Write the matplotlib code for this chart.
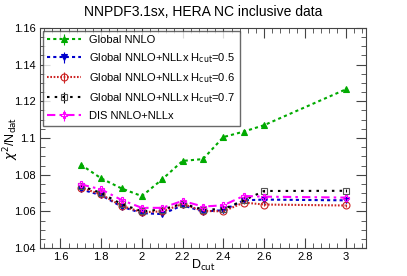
import numpy as np
import matplotlib
matplotlib.use("Agg")
from matplotlib import pyplot as plt
from matplotlib.ticker import MultipleLocator

plt.rcParams['font.family'] = ['Liberation Sans', 'DejaVu Sans']

dcut = [1.7, 1.8, 1.9, 2.0, 2.1, 2.2, 2.3, 2.4, 2.5, 2.6, 3.0]
global_nnlo = [1.0855, 1.078, 1.0725, 1.0683, 1.0775, 1.0875, 1.0885, 1.1005, 1.1035, 1.107, 1.1265]
nllx_h05 = [1.072, 1.0688, 1.0626, 1.0590, 1.0585, 1.0633, 1.0599, 1.0606, 1.0660, 1.0664, 1.0660]
nllx_h06 = [1.073, 1.0692, 1.0630, 1.0595, 1.0600, 1.0640, 1.0602, 1.0600, 1.0648, 1.0637, 1.0632]
nllx_h07 = [1.0740, 1.0700, 1.0640, 1.0600, 1.0610, 1.0642, 1.0610, 1.0612, 1.0660, 1.0711, 1.0712]
dis_nllx = [1.0747, 1.0720, 1.0662, 1.0619, 1.0619, 1.0657, 1.0626, 1.0633, 1.0684, 1.0680, 1.0675]

series = [
    (global_nnlo, 'Global NNLO', '#00aa00', '^', (0, (1.5, 1.5)), True),
    (nllx_h05, r'Global NNLO+NLLx H$_{\rm cut}$=0.5', '#0000cc', 'v', (0, (1.5, 1.5)), True),
    (nllx_h06, r'Global NNLO+NLLx H$_{\rm cut}$=0.6', '#cc2222', 'o', (0, (0.8, 0.8)), False),
    (nllx_h07, r'Global NNLO+NLLx H$_{\rm cut}$=0.7', 'black', 's', (0, (1.2, 2.5)), False),
    (dis_nllx, 'DIS NNLO+NLLx', '#ff00ff', 'P', (0, (4, 2, 1.2, 2)), False),
]

fig = plt.figure(figsize=(4.07, 2.76), dpi=100)
ax = fig.add_axes([40/407, 1 - 248/276, 326/407, 220/276])

for vals, lab, col, mk, ls, filled in series:
    ax.errorbar(dcut, vals, yerr=0.0008, color=col, marker=mk, markersize=5,
                mfc=col if filled else 'none', mec=col if col != 'black' else '#555555', mew=0.8,
                linestyle=ls, linewidth=1.5, elinewidth=0.8, capsize=0, label=lab)

ax.set_xlim(1.5, 3.1)
ax.set_ylim(1.04, 1.16)
ax.xaxis.set_minor_locator(MultipleLocator(0.04))
ax.yaxis.set_minor_locator(MultipleLocator(0.005))
ax.set_xticks([1.6, 1.8, 2.0, 2.2, 2.4, 2.6, 2.8, 3.0])
ax.set_xticklabels(['1.6', '1.8', '2', '2.2', '2.4', '2.6', '2.8', '3'])
ax.set_yticks([1.04, 1.06, 1.08, 1.1, 1.12, 1.14, 1.16])
ax.set_yticklabels(['1.04', '1.06', '1.08', '1.1', '1.12', '1.14', '1.16'])
ax.tick_params(which='both', direction='in', top=True, right=True, labelsize=8, color='#444444', pad=3)
ax.tick_params(which='major', length=7)
ax.tick_params(which='minor', length=3.5)
for s in ax.spines.values():
    s.set_color('#444444')

fig.text(203/407, 1 - 265/276, r'D$_{\rm cut}$', ha='center', va='center', fontsize=9)
fig.text(11/407, 1 - 138/276, r'$\chi^2$/N$_{\rm dat}$', ha='center', va='center',
         rotation=90, fontsize=9)
fig.text(0.5, 1 - 12/276, 'NNPDF3.1sx, HERA NC inclusive data', ha='center', va='center', fontsize=10)

leg = ax.legend(loc='upper left', fontsize=8, frameon=True, fancybox=False,
                edgecolor='#444444', handlelength=3, borderaxespad=0.25,
                labelspacing=0.55, borderpad=0.4)
leg.get_frame().set_linewidth(1.0)

fig.savefig('out.png', dpi=100)
